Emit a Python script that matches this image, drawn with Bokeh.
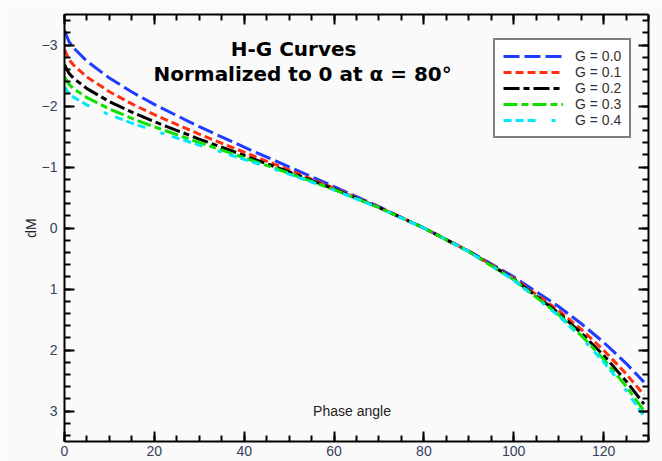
from bokeh.plotting import figure
from bokeh.models import (Range1d, SingleIntervalTicker, LinearAxis, Label, Legend, LegendItem,
                          CustomJSTickFormatter)
from bokeh.embed import file_html
from bokeh.resources import INLINE

# phase angle samples (deg)
phase = [0, 1, 2, 5, 10, 15, 20, 30, 40, 50, 60, 70, 80, 90, 100, 110, 115, 120, 125, 129]

g00 = [-3.237, -3.055, -2.955, -2.734, -2.458, -2.229, -2.026, -1.660, -1.325, -1.002, -0.680, -0.349, 0.0,
       0.378, 0.801, 1.288, 1.566, 1.873, 2.218, 2.527]
g01 = [-2.923, -2.760, -2.671, -2.476, -2.234, -2.034, -1.857, -1.538, -1.242, -0.951, -0.654, -0.341, 0.0,
       0.383, 0.825, 1.352, 1.659, 2.002, 2.389, 2.737]
g02 = [-2.679, -2.535, -2.456, -2.285, -2.073, -1.898, -1.742, -1.458, -1.189, -0.920, -0.639, -0.336, 0.0,
       0.385, 0.839, 1.392, 1.719, 2.087, 2.507, 2.886]
g03 = [-2.481, -2.354, -2.286, -2.137, -1.951, -1.797, -1.658, -1.401, -1.152, -0.898, -0.629, -0.333, 0.0,
       0.387, 0.849, 1.419, 1.760, 2.148, 2.593, 2.997]
g04 = [-2.313, -2.204, -2.146, -2.017, -1.856, -1.719, -1.594, -1.359, -1.125, -0.883, -0.621, -0.331, 0.0,
       0.388, 0.856, 1.439, 1.791, 2.193, 2.658, 3.085]

series_labels = ["G = 0.0", "G = 0.1", "G = 0.2", "G = 0.3", "G = 0.4"]
series_values = [g00, g01, g02, g03, g04]
colors = ["#1f3dff", "#ff3010", "#000000", "#10e000", "#00e8f8"]
dashes = ["16 5", "8 4", "16 4 6 4", "14 4 7 4", "8 4 8 4 8 16 4 8"]

title_line1 = "H-G Curves"
title_line2 = "Normalized to 0 at \u03b1 = 80\u00b0"
x_title = "Phase angle"
y_title = "dM"

FONT = "Liberation Sans"
TFONT = "DejaVu Sans"

p = figure(width=662, height=461, output_backend="svg", toolbar_location=None,
           x_range=Range1d(0, 130), y_range=Range1d(3.5, -3.5),
           min_border_left=64, min_border_right=14, min_border_top=14, min_border_bottom=20,
           background_fill_color="#fafafa", border_fill_color="#fafafa")
p.outline_line_color = None
p.grid.visible = False

def style_axis(ax, labels=True):
    ax.axis_line_width = 2
    ax.axis_line_color = "black"
    ax.major_tick_in = 10
    ax.major_tick_out = 0
    ax.minor_tick_in = 6
    ax.minor_tick_out = 0
    ax.major_tick_line_width = 2
    ax.minor_tick_line_width = 2
    ax.major_tick_line_color = "black"
    ax.minor_tick_line_color = "black"
    ax.major_label_text_font = FONT
    ax.major_label_text_font_size = "14px"
    ax.major_label_text_color = "#34405e"
    if not labels:
        ax.formatter = CustomJSTickFormatter(code="return ''")
        ax.major_label_standoff = 0

xt = SingleIntervalTicker(interval=20, num_minor_ticks=4)
yt = SingleIntervalTicker(interval=1, num_minor_ticks=5)

p.xaxis.ticker = xt
p.yaxis.ticker = yt
style_axis(p.xaxis[0])
style_axis(p.yaxis[0])
p.xaxis.major_label_standoff = 4
p.yaxis.major_label_standoff = 7
p.yaxis.axis_label = y_title
p.yaxis.axis_label_text_font = FONT
p.yaxis.axis_label_text_font_style = "normal"
p.yaxis.axis_label_text_font_size = "14px"
p.yaxis.axis_label_text_color = "#222222"
p.yaxis.axis_label_standoff = 0

top_ax = LinearAxis(ticker=xt)
style_axis(top_ax, labels=False)
p.add_layout(top_ax, "above")
right_ax = LinearAxis(ticker=yt)
style_axis(right_ax, labels=False)
p.add_layout(right_ax, "right")

items = []
for lab, vals, c, d in zip(series_labels, series_values, colors, dashes):
    r = p.line(phase, vals, line_color=c, line_width=3, line_dash=d)
    items.append(LegendItem(label=lab, renderers=[r]))

legend = Legend(items=items, location=(429, 303), padding=8, margin=0, spacing=0,
                glyph_width=60, glyph_height=16, label_height=16, label_standoff=12,
                label_text_font=FONT, label_text_font_size="14px", label_text_color="#333333",
                border_line_color="black", border_line_width=2, background_fill_color="white",
                background_fill_alpha=1.0)
p.add_layout(legend, "center")

p.add_layout(Label(x=51.0, y=-2.94, text=title_line1, text_align="center", text_baseline="middle",
                   text_font=TFONT, text_font_style="bold", text_font_size="20px", text_color="black"))
p.add_layout(Label(x=53.0, y=-2.52, text=title_line2, text_align="center", text_baseline="middle",
                   text_font=TFONT, text_font_style="bold", text_font_size="20px", text_color="black"))
p.add_layout(Label(x=64.0, y=3.0, text=x_title, text_align="center", text_baseline="middle",
                   text_font=FONT, text_font_size="14px", text_color="#222222"))

open("out.html", "w").write(file_html(p, INLINE))
